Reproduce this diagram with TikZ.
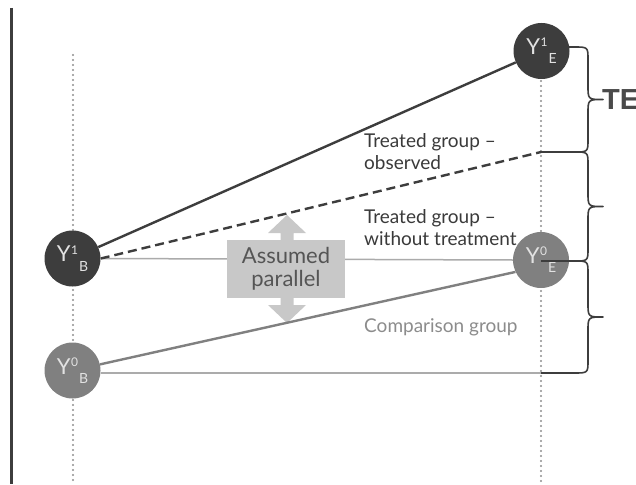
\documentclass[tikz,border=0pt]{standalone}
\usepackage{fontspec}
\setmainfont{Lato}
\newfontfamily\tefont{Liberation Sans}
\definecolor{dark}{HTML}{3D3D3D}
\definecolor{mid}{HTML}{808080}
\definecolor{lightline}{HTML}{ABABAB}
\definecolor{dotgrey}{HTML}{8E8E8E}
\definecolor{boxgrey}{HTML}{C8C8C8}
\definecolor{boxtext}{HTML}{555555}
\definecolor{labeldark}{HTML}{3A3A3A}
\definecolor{labellight}{HTML}{8C8C8C}
\definecolor{circtext}{HTML}{E2E2E2}
\definecolor{tegrey}{HTML}{4A4A4A}
\newcommand\ylab[2]{Y\kern0.5pt\raisebox{0.7ex}{\fontsize{12}{12}\selectfont #1}\kern1pt\raisebox{-0.85ex}{\fontsize{14}{14}\selectfont #2}}
\newcommand\drawbrace[3]{%
  \pgfmathsetmacro\bm{(#2+#3)/2}%
  \draw[bracepath] #1 -- (574,#2) .. controls (588,#2) .. (588,#2+13)
    -- (588,\bm-14) .. controls (588,\bm) .. (603,\bm)
    .. controls (588,\bm) .. (588,\bm+14) -- (588,#3-13)
    .. controls (588,#3) .. (574,#3) -- (541,#3);}
\begin{document}
\begin{tikzpicture}[x=1pt,y=-1pt,
  ynode/.style={circle, minimum size=56pt, inner sep=0pt, text=circtext, font=\fontsize{22}{22}\selectfont},
  dotline/.style={draw=dotgrey, line width=2.2pt, dash pattern=on 0pt off 5pt, line cap=round},
  bracepath/.style={draw=dark, line width=1.6pt, line join=round},
  lab/.style={anchor=west, align=left, inner sep=0pt, font=\fontsize{19}{22}\selectfont},
]
\useasboundingbox (0,0) rectangle (636,484);
\fill[white] (0,0) rectangle (636,484);
% axis
\coordinate (axtop) at (11.5,8);
\coordinate (axbot) at (11.5,484);
\draw[dark, line width=2.5pt] (axtop) -- (axbot);
% dotted guides
\coordinate (lt) at (73,55); \coordinate (lb) at (73,482);
\coordinate (rt) at (541,51); \coordinate (rb) at (541,484);
\draw[dotline] (lt) -- (lb);
\draw[dotline] (rt) -- (rb);
% circles
\node[ynode, fill=dark] (y1e) at (541.5,51) {\ylab{1}{E}};
\node[ynode, fill=dark] (y1b) at (72.5,258.5) {\ylab{1}{B}};
\node[ynode, fill=mid] (y0e) at (541,260) {\ylab{0}{E}};
\node[ynode, fill=mid] (y0b) at (72.5,370.5) {\ylab{0}{B}};
% thin grey lines
\coordinate (cmp) at (541,373);
\draw[lightline, line width=1.5pt] (y1b.east) -- (y0e.west);
\draw[lightline, line width=1.5pt] (y0b.east|-cmp) -- (cmp);
% assumed parallel
\fill[boxgrey] (287,215) -- (306,233) -- (293.5,233) -- (293.5,305) -- (306,305) -- (287,323)
  -- (268,305) -- (280.5,305) -- (280.5,233) -- (268,233) -- cycle;
\node[fill=boxgrey, minimum width=118pt, minimum height=58pt, inner sep=0pt, text=boxtext,
  align=center, font=\fontsize{22}{23}\selectfont] (par) at (286,269) {Assumed\\parallel};
% main lines
\coordinate (obs) at (541,152);
\draw[dark, line width=2.4pt] (y1b) -- (y1e);
\draw[dark, line width=2.4pt, dash pattern=on 9pt off 5pt] (y1b.east) -- (obs);
\draw[mid, line width=2.4pt] (y0b) -- (y0e.205);
% braces
\coordinate (b1) at (569,47);
\coordinate (b2) at (541,152);
\coordinate (b4) at (541,261);
\drawbrace{(b1)}{47}{152}
\drawbrace{(b2)}{152}{261}
\drawbrace{(b4)}{261}{373}
% labels
\node[anchor=west, inner sep=0pt, text=tegrey, font=\tefont\bfseries\fontsize{29}{29}\selectfont] (te) at (602,100) {TE};
\node[lab, text=labeldark] (obslab) at (364,152) {Treated group –\\observed};
\node[lab, text=labeldark] (wolab) at (364,228) {Treated group –\\without treatment};
\node[lab, text=labellight] (cmplab) at (364,327) {Comparison group};
\end{tikzpicture}
\end{document}
